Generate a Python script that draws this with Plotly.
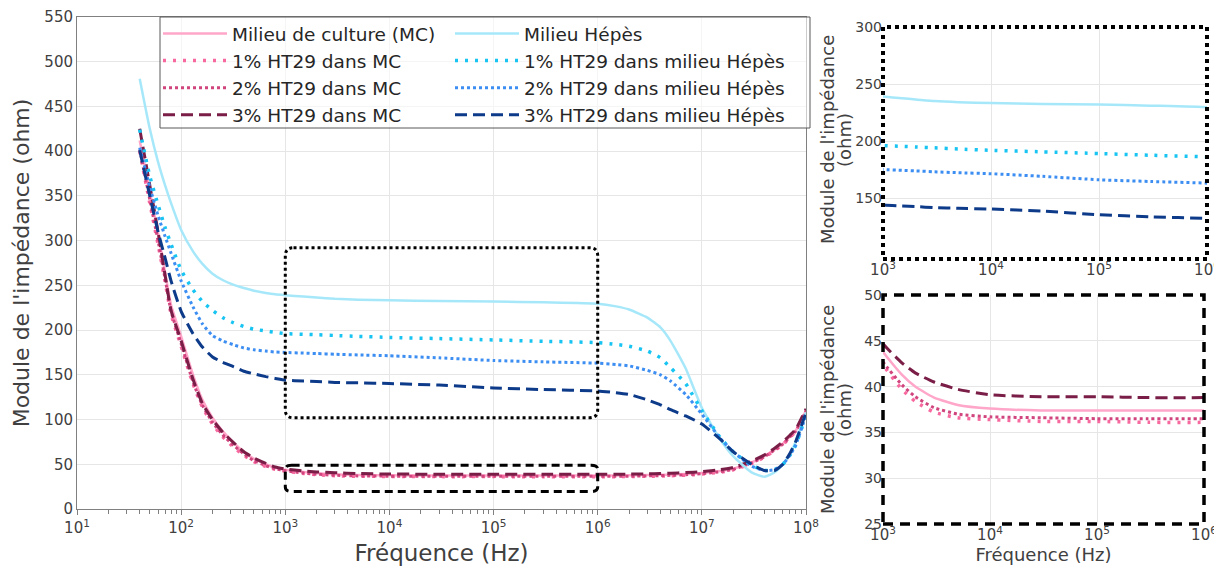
import plotly.graph_objects as go

# frequency points (Hz)
freq_hz = [40, 50, 60, 70, 80, 100, 130, 160, 200, 250, 320, 400, 500, 650, 800,
           1e3, 1.5e3, 2e3, 3e3, 5e3, 1e4, 3e4, 1e5, 3e5, 1e6, 1.5e6,
           2e6, 3e6, 4e6, 5e6, 7e6, 1e7, 1.5e7, 2e7, 3e7, 4e7, 5e7, 6e7, 7e7, 8e7, 1e8]

# impedance modulus (ohm)
mc = [412, 355, 308, 265, 228, 193, 150, 122, 102, 87, 74, 64, 56, 50, 46,
      43.8, 41.3, 40, 38.8, 38, 37.6, 37.4, 37.4, 37.4, 37.4, 37.5,
      37.6, 37.9, 38.2, 38.5, 39.2, 40.3, 42.5, 45, 52, 59, 66.5, 73, 81, 88, 110]
mc_1 = [400, 342, 296, 255, 218, 182, 140, 114, 95, 81, 69, 60, 53, 47.5, 44.5,
        42.4, 39.7, 38.4, 37.2, 36.6, 36.4, 36.2, 36.2, 36.1, 36.1, 36.2,
        36.3, 36.6, 36.9, 37.2, 37.9, 39, 41.2, 43.8, 51, 58, 65.5, 72, 80, 87, 109]
mc_2 = [402, 346, 300, 258, 221, 185, 142, 116, 97, 83, 71, 61.5, 54, 48.5, 45,
        42.7, 40.2, 38.9, 37.7, 37, 36.7, 36.6, 36.5, 36.5, 36.5, 36.6,
        36.7, 37, 37.3, 37.6, 38.3, 39.5, 41.7, 44.3, 51.5, 58.5, 66, 72.5, 80.5, 87.5, 110]
mc_3 = [425, 362, 310, 262, 222, 188, 145, 118, 100, 86, 74, 64, 57, 51, 47,
        44.7, 42.6, 41.5, 40.5, 39.7, 39.1, 38.9, 38.9, 38.8, 38.8, 38.9,
        39, 39.3, 39.6, 40, 40.7, 41.8, 44, 46.5, 53.5, 60.5, 68, 75, 82.5, 89.5, 112]
hep = [481, 425, 388, 362, 342, 312, 288, 274, 263, 256, 250.5, 247, 244, 241.5, 240,
       239, 237.5, 236.5, 235, 234, 233.3, 232.5, 232, 231, 229.5, 226.5,
       223, 214, 203, 188, 157, 113, 78, 59, 41, 36, 41, 50, 61, 76, 108]
hep_1 = [424, 372, 340, 315, 296, 267, 245, 232, 222, 214, 208, 204, 201, 199, 197.5,
         196, 195.3, 194.8, 194, 193, 191.8, 190.5, 189, 187.5, 186, 184,
         182, 176.5, 169, 158, 140, 110, 80, 64, 49, 43, 44, 50, 60, 72, 105]
hep_2 = [404, 360, 328, 305, 286, 255, 226, 207, 194, 188, 183.5, 180, 178, 176.5, 175.5,
         175, 174.3, 173.8, 173, 172.2, 171.3, 169, 166, 164.5, 163, 161.5,
         160, 155, 150, 143, 128, 106, 79, 64, 48, 43, 44, 50, 60, 72, 105]
hep_3 = [401, 350, 310, 281, 255, 221, 196, 181, 170, 164, 159, 154, 151, 148, 146,
         144, 143, 142.5, 141.5, 141, 140.3, 138.5, 135.3, 133.5, 132, 130,
         128, 122, 116.5, 111, 104, 95, 78, 64, 50, 43, 43, 50, 62, 76, 108]

names_mc = ["Milieu de culture (MC)", "1% HT29 dans MC", "2% HT29 dans MC", "3% HT29 dans MC"]
names_hep = ["Milieu Hépès", "1% HT29 dans milieu Hépès", "2% HT29 dans milieu Hépès",
             "3% HT29 dans milieu Hépès"]

styles_mc = [("#FFA6C9", "solid", 2.5), ("#F7699F", "3px,7px", 3.5),
             ("#D1457F", "3px,3px", 3), ("#7A1E48", "12px,6px", 3)]
styles_hep = [("#A6E8FA", "solid", 2.5), ("#17C4F2", "3px,7px", 3.5),
              ("#3D8EF2", "3px,3px", 3), ("#0D3B8A", "12px,6px", 3)]

# zoom windows drawn on the main plot
box_hep = dict(f0=1e3, f1=1e6, z0=102, z1=292)
box_mc = dict(f0=1e3, f1=1e6, z0=19.5, z1=49)

decades_main = [1, 2, 3, 4, 5, 6, 7, 8]
decades_zoom = [3, 4, 5, 6]

FONT = "DejaVu Sans"
TXT = "#404040"
GRID = "#e6e6e6"
# the page body has an 8px margin, so the figure is drawn 8px smaller and placed from there
OFF = 8
FW, FH = 1222 - OFF, 570 - OFF


def px_x(p):
    return (p - OFF) / FW


def px_y(p):
    return 1 - (p - OFF) / FH


fig = go.Figure()

for series, name, (col, dash, w) in zip([mc, mc_1, mc_2, mc_3], names_mc, styles_mc):
    fig.add_trace(go.Scatter(x=freq_hz, y=series, name=name, mode="lines",
                             line=dict(color=col, dash=dash, width=w, shape="spline", smoothing=0.5),
                             legend="legend"))
for series, name, (col, dash, w) in zip([hep, hep_1, hep_2, hep_3], names_hep, styles_hep):
    fig.add_trace(go.Scatter(x=freq_hz, y=series, name=name, mode="lines",
                             line=dict(color=col, dash=dash, width=w, shape="spline", smoothing=0.5),
                             legend="legend2"))

# right top: Hepes zoom
for series, (col, dash, w) in zip([hep, hep_1, hep_2, hep_3], styles_hep):
    fig.add_trace(go.Scatter(x=freq_hz, y=series, mode="lines", showlegend=False,
                             line=dict(color=col, dash=dash, width=w, shape="spline", smoothing=0.5),
                             xaxis="x2", yaxis="y2"))
# right bottom: MC zoom
for series, (col, dash, w) in zip([mc, mc_1, mc_2, mc_3], styles_mc):
    fig.add_trace(go.Scatter(x=freq_hz, y=series, mode="lines", showlegend=False,
                             line=dict(color=col, dash=dash, width=w, shape="spline", smoothing=0.5),
                             xaxis="x3", yaxis="y3"))


def rounded_box(b, kx=1.2, ry=9):
    x0, x1, y0, y1 = b["f0"], b["f1"], b["z0"], b["z1"]
    return (f"M {x0*kx},{y1} L {x1/kx},{y1} Q {x1},{y1} {x1},{y1-ry} "
            f"L {x1},{y0+ry} Q {x1},{y0} {x1/kx},{y0} L {x0*kx},{y0} "
            f"Q {x0},{y0} {x0},{y0+ry} L {x0},{y1-ry} Q {x0},{y1} {x0*kx},{y1} Z")


def log_ticks(decades):
    return dict(tickvals=[10 ** k for k in decades],
                ticktext=[f"10<sup>{k}</sup>" for k in decades])


shapes = [
    dict(type="path", xref="x", yref="y", path=rounded_box(box_hep),
         line=dict(color="black", width=3, dash="dot")),
    dict(type="path", xref="x", yref="y", path=rounded_box(box_mc, kx=1.15, ry=5),
         line=dict(color="black", width=3, dash="8px,5px")),
    dict(type="rect", xref="x2 domain", yref="y2 domain", x0=0, x1=1, y0=0, y1=1,
         line=dict(color="black", width=4, dash="dot")),
    dict(type="rect", xref="x3 domain", yref="y3 domain", x0=0, x1=1, y0=0, y1=1,
         line=dict(color="black", width=3.5, dash="10px,7px")),
    # legend frame
    dict(type="rect", xref="paper", yref="paper", x0=px_x(160), x1=px_x(810),
         y0=px_y(128), y1=px_y(17), layer="above",
         line=dict(color="#595959", width=1), fillcolor="rgba(255,255,255,0.6)"),
]

ytitle_font = dict(family=FONT, size=18, color=TXT)
annotations = []
for yc in (140, 410):
    annotations.append(dict(text="Module de l'impédance", xref="paper", yref="paper",
                            x=px_x(827), y=px_y(yc), textangle=-90, showarrow=False,
                            font=ytitle_font, xanchor="center", yanchor="middle"))
    annotations.append(dict(text="(ohm)", xref="paper", yref="paper",
                            x=px_x(844), y=px_y(yc), textangle=-90, showarrow=False,
                            font=ytitle_font, xanchor="center", yanchor="middle"))

axis_common = dict(gridcolor=GRID, zeroline=False, automargin=False)
tick15 = dict(family=FONT, size=15, color=TXT)
tick14 = dict(family=FONT, size=14, color=TXT)
legend_font = dict(family=FONT, size=18.5, color="#262626")

fig.update_layout(
    width=FW, height=FH,
    margin=dict(l=0, r=0, t=0, b=0, autoexpand=False),
    paper_bgcolor="white", plot_bgcolor="white",
    font=dict(family=FONT, color=TXT),
    shapes=shapes,
    annotations=annotations,
    xaxis=dict(type="log", range=[1, 8], **log_ticks(decades_main),
               domain=[px_x(77), px_x(806)], anchor="y", tickfont=tick15,
               showline=True, linecolor="#808080", mirror=True,
               ticks="outside", ticklen=5, tickcolor="#808080",
               minor=dict(dtick="D1", ticks="outside", ticklen=4, tickcolor="#808080", showgrid=False),
               title=dict(text="Fréquence (Hz)", font=dict(family=FONT, size=23, color=TXT), standoff=8),
               **axis_common),
    yaxis=dict(range=[0, 550], dtick=50, domain=[px_y(509), px_y(17)], anchor="x", tickfont=tick15,
               showline=True, linecolor="#808080", mirror=True, ticks="",
               title=dict(text="Module de l'impédance (ohm)", font=dict(family=FONT, size=22, color=TXT),
                          standoff=8),
               **axis_common),
    xaxis2=dict(type="log", range=[3, 6], **log_ticks(decades_zoom),
                domain=[px_x(883), px_x(1207)], anchor="y2", showline=False, tickfont=tick15,
                **axis_common),
    yaxis2=dict(range=[96.5, 300], tickvals=[150, 200, 250, 300], tickfont=tick14,
                domain=[px_y(259), px_y(27)], anchor="x2", showline=False,
                **axis_common),
    xaxis3=dict(type="log", range=[3, 6], **log_ticks(decades_zoom),
                domain=[px_x(883), px_x(1204)], anchor="y3", showline=False, tickfont=tick15,
                title=dict(text="Fréquence (Hz)", font=dict(family=FONT, size=18, color=TXT), standoff=2),
                **axis_common),
    yaxis3=dict(range=[25, 50], dtick=5, tickfont=tick14,
                domain=[px_y(524), px_y(295)], anchor="x3", showline=False,
                **axis_common),
    legend=dict(x=px_x(158), y=px_y(15), xanchor="left", yanchor="top",
                bgcolor="rgba(0,0,0,0)", borderwidth=0, itemwidth=64, tracegroupgap=0,
                font=legend_font),
    legend2=dict(x=px_x(450), y=px_y(15), xanchor="left", yanchor="top",
                 bgcolor="rgba(0,0,0,0)", borderwidth=0, itemwidth=64, tracegroupgap=0,
                 font=legend_font),
)

fig.write_html("out.html")
